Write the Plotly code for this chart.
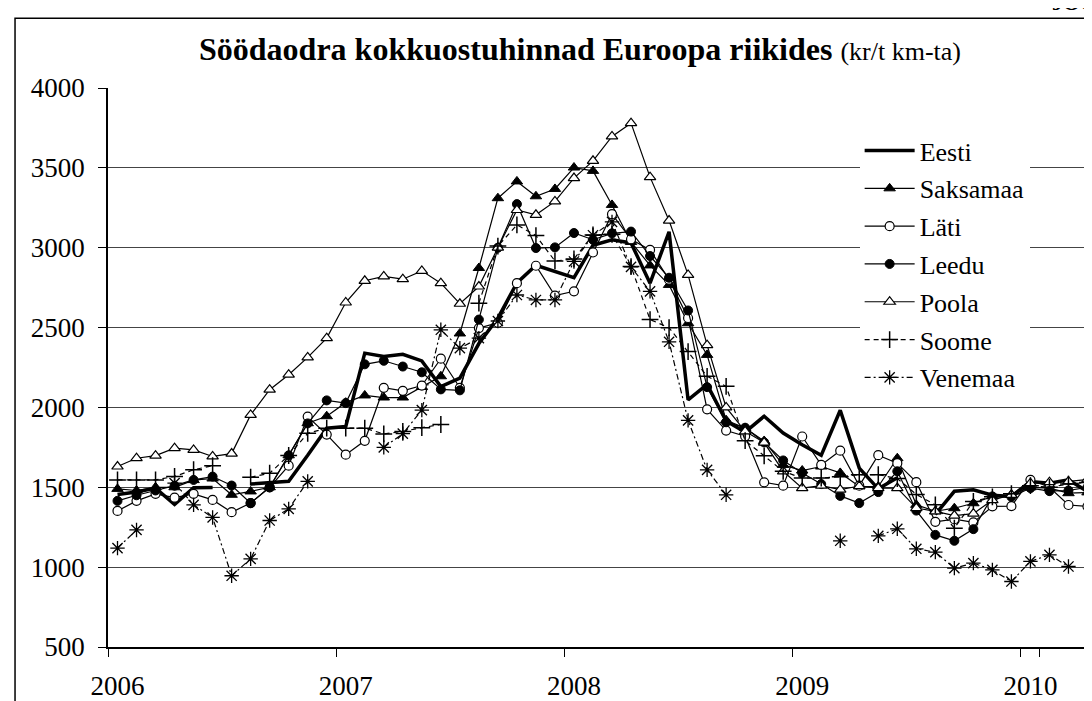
import plotly.graph_objects as go

# ---- categories (monthly, Jan 2006 .. Apr 2010) ----
months = [f"{y}-{m:02d}" for y in range(2006, 2011) for m in range(1, 13)][:52]
year_ticks = ["2006-01", "2007-01", "2008-01", "2009-01", "2010-01"]
year_labels = ["2006", "2007", "2008", "2009", "2010"]

N = None
eesti = [1455, 1470, 1495, 1392, 1497, 1499, N, 1520, 1527, 1538, 1700, 1870,
         1880, 2340, 2319, 2333, 2291, 2131, 2183, 2400, 2560, 2780, 2890, 2850,
         2812, 3015, 3049, 3030, 2778, 3100, 2047, 2144, 1915, 1845, 1945, 1840,
         1766, 1700, 1982, 1620, 1490, 1560, N, 1330, 1475, 1484, 1450, 1443,
         1536, 1526, 1547, 1473]
saksamaa = [1490, 1480, 1500, 1500, 1545, 1555, 1453, 1474, 1500, 1700, 1901, 1945,
            2030, 2075, 2062, 2062, 2128, 2195, 2463, 2873, 3310, 3415, 3322, 3368,
            3502, 3481, 3268, 3036, 2889, 2767, 2527, 2329, 1920, 1871, 1790, 1640,
            1605, 1630, 1590, 1505, 1505, 1682, 1390, 1350, 1369, 1400, 1443, 1453,
            1500, 1495, 1463, 1468]
lati = [1352, 1415, 1459, 1435, 1459, 1421, 1344, 1401, 1500, 1635, 1943, 1830,
        1704, 1791, 2123, 2104, 2137, 2305, 2123, 2497, 2530, 2778, 2887, 2700,
        2727, 2970, 3210, 3053, 2986, 2800, 2560, 1988, 1855, 1820, 1531, 1510,
        1818, 1640, 1729, 1510, 1701, 1651, 1532, 1284, 1300, 1280, 1380, 1382,
        1547, 1500, 1389, 1380]
leedu = [1415, 1450, 1480, 1510, 1546, 1567, 1511, 1401, 1500, 1700, 1900, 2044,
         2027, 2270, 2292, 2256, 2220, 2113, 2107, 2550, 3000, 3273, 2998, 3002,
         3092, 3050, 3090, 3101, 2948, 2812, 2607, 2127, 1907, 1873, 1781, 1668,
         1590, 1520, 1446, 1401, 1470, 1600, 1354, 1202, 1165, 1238, 1443, 1440,
         1495, 1476, 1480, 1500]
poola = [1630, 1682, 1698, 1745, 1734, 1693, 1711, 1953, 2111, 2205, 2313, 2434,
         2657, 2793, 2820, 2803, 2855, 2778, 2649, 2757, 3000, 3236, 3206, 3290,
         3436, 3544, 3697, 3780, 3442, 3170, 2830, 2390, 2000, 1850, 1780, 1600,
         1495, 1510, 1485, 1508, 1495, 1495, 1370, 1349, 1323, 1335, 1420, 1453,
         1526, 1532, 1537, 1549]
soome = [1546, 1546, 1546, 1568, 1610, 1635, N, 1563, 1588, 1699, 1838, 1870,
         1870, 1870, 1834, 1850, 1873, 1893, N, 2653, 3010, 3143, 3076, 2917,
         2930, 3080, 3084, 2882, 2550, 2499, 2350, 2195, 2132, 1792, 1697, 1600,
         1558, 1558, 1566, 1579, 1579, 1555, 1455, 1390, 1244, 1411, 1440, 1460,
         1510, 1500, 1520, 1530]
venemaa = [1119, 1233, N, 1526, 1390, 1311, 946, 1052, 1292, 1365, 1537, N,
           N, N, 1750, 1836, 1983, 2486, 2371, 2434, 2541, 2704, 2673, 2673,
           2914, 3078, 3162, 2880, 2727, 2411, 1919, 1609, 1453, N, N, N,
           N, N, 1165, N, 1196, 1240, 1115, 1094, 994, 1025, 983, 910,
           1036, 1077, 1004, N]

FONT = "Liberation Serif"

series = [
    ("Eesti", eesti, dict(width=3.5, color="black"), None),
    ("Saksamaa", saksamaa, dict(width=1.2, color="black"),
     dict(symbol="triangle-up", size=10, color="black", line=dict(color="black", width=1))),
    ("Läti", lati, dict(width=1.2, color="black"),
     dict(symbol="circle", size=9, color="white", line=dict(color="black", width=1.2))),
    ("Leedu", leedu, dict(width=1.2, color="black"),
     dict(symbol="circle", size=9, color="black", line=dict(color="black", width=1))),
    ("Poola", poola, dict(width=1.2, color="black"),
     dict(symbol="triangle-up", size=10, color="white", line=dict(color="black", width=1.2))),
    ("Soome", soome, dict(width=1.2, color="black", dash="5px,4px"),
     dict(symbol="cross-thin", size=12, color="black", line=dict(color="black", width=1.5))),
    ("Venemaa", venemaa, dict(width=1.2, color="black", dash="6px,3px,2px,3px"),
     dict(symbol="asterisk-open", size=12, color="black", line=dict(color="black", width=1.3))),
]

fig = go.Figure()
for name, vals, line, marker in series:
    fig.add_trace(go.Scatter(
        x=months, y=vals, name=name, legendgroup=name,
        mode="lines" if marker is None else "lines+markers",
        line=line, marker=marker, connectgaps=False,
    ))

fig.update_layout(
    width=1092, height=701,
    margin=dict(l=100, r=3, t=80, b=62),
    paper_bgcolor="white", plot_bgcolor="white",
    font=dict(family=FONT, size=27, color="black"),
    showlegend=True,
    legend=dict(
        x=0.76, y=0.93, xanchor="left", yanchor="top",
        bgcolor="white", borderwidth=0,
        font=dict(family=FONT, size=26, color="black"),
        itemwidth=50, tracegroupgap=1,
    ),
    xaxis=dict(
        type="category", categoryorder="array", categoryarray=months,
        range=[-0.5, 51.5],
        tickmode="array", tickvals=year_ticks, ticktext=year_labels,
        tickson="boundaries", ticks="outside", ticklen=8, tickcolor="black",
        tickangle=0, automargin=False,
        showgrid=False, showline=True, linecolor="black", linewidth=1.5,
        tickfont=dict(family=FONT, size=27), ticklabelstandoff=14,
        zeroline=False,
    ),
    yaxis=dict(
        range=[500, 4000], tickmode="linear", tick0=500, dtick=500,
        ticks="outside", ticklen=8, tickcolor="black", automargin=False,
        showgrid=True, gridcolor="#444444", gridwidth=1,
        showline=True, linecolor="black", linewidth=1.5,
        tickfont=dict(family=FONT, size=27), ticklabelstandoff=8,
        zeroline=False,
    ),
    annotations=[
        dict(text="<b>Söödaodra kokkuostuhinnad Euroopa riikides</b> "
                  "<span style='font-size:26px'>(kr/t km-ta)</span>",
             xref="paper", yref="paper", x=0.477, y=1.07,
             xanchor="center", yanchor="middle", showarrow=False,
             font=dict(family=FONT, size=32, color="black")),
        dict(text="<b>JOO</b>", xref="paper", yref="paper",
             x=0.952, y=1.127, xanchor="left", yanchor="bottom", showarrow=False,
             font=dict(family=FONT, size=22, color="black")),
    ],
    shapes=[
        dict(type="rect", xref="paper", yref="paper",
             x0=-0.094, x1=0.9995, y0=-0.2, y1=1.125,
             line=dict(color="black", width=1.5), fillcolor="rgba(0,0,0,0)"),
    ],
)

fig.write_html("out.html")
